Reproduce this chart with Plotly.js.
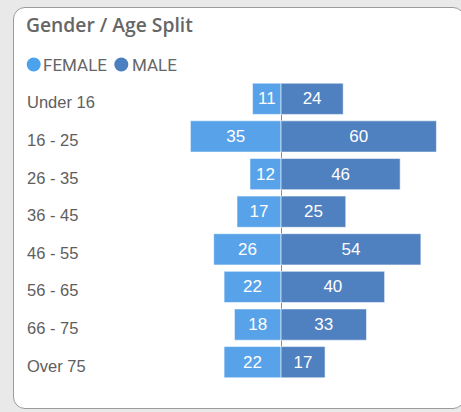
<!DOCTYPE html>
<html>
<head>
<meta charset="utf-8">
<script src="https://cdn.plot.ly/plotly-3.0.1.min.js"></script>
<style>
  html, body { margin: 0; padding: 0; background: #e9e9e9; width: 461px; height: 412px; overflow: hidden; }
  #card { position: absolute; left: 13px; top: 7px; width: 452px; height: 402px; background: #ffffff;
          border: 1.5px solid #9a9a9a; border-radius: 12px; box-sizing: border-box; }
  #chart { position: absolute; left: 0; top: 0; width: 461px; height: 412px; }
</style>
</head>
<body>
<div id="card"></div>
<div id="chart"></div>
<script>
const categories = ["Under 16", "16 - 25", "26 - 35", "36 - 45", "46 - 55", "56 - 65", "66 - 75", "Over 75"];
const female = [11, 35, 12, 17, 26, 22, 18, 22];
const male = [24, 60, 46, 25, 54, 40, 33, 17];
const seriesNames = ["FEMALE", "MALE"];
const colors = { female: "#58a2e9", male: "#4f80bf" };

const barFont = { color: "#ffffff", size: 17, family: "Liberation Sans, Arial, sans-serif" };
const traces = [
  {
    type: "bar", orientation: "h", name: seriesNames[0], showlegend: false,
    y: categories, x: female.map(v => -v), text: female.map(String),
    textposition: "inside", insidetextanchor: "middle", textangle: 0,
    textfont: barFont,
    marker: { color: colors.female, line: { color: "rgba(255,255,255,0.55)", width: 1 } },
    hoverinfo: "none"
  },
  {
    type: "bar", orientation: "h", name: seriesNames[1], showlegend: false,
    y: categories, x: male, text: male.map(String),
    textposition: "inside", insidetextanchor: "middle", textangle: 0,
    textfont: barFont,
    marker: { color: colors.male, line: { color: "rgba(255,255,255,0.55)", width: 1 } },
    hoverinfo: "none"
  }
];

const W = 461, H = 412;
const ml = 27, mr = 15, mt = 83, mb = 34;
const pw = W - ml - mr, ph = H - mt - mb;
const px2paperX = px => (px - ml) / pw;
const px2paperY = py => 1 - (py - mt) / ph;

const annotations = categories.map(c => ({
  xref: "paper", yref: "y", x: 0, y: c, xanchor: "left", yanchor: "middle",
  xshift: -2, yshift: -3.5,
  text: c, showarrow: false,
  font: { family: "Liberation Sans, Arial, sans-serif", size: 16.5, color: "#5e5e5e" }
}));
const legFont = { family: "Roboto, sans-serif", size: 17, color: "#666666" };
annotations.push(
  { xref: "paper", yref: "paper", x: px2paperX(41), y: px2paperY(64.5), xanchor: "left", yanchor: "middle",
    text: seriesNames[0], showarrow: false, font: legFont },
  { xref: "paper", yref: "paper", x: px2paperX(130), y: px2paperY(64.5), xanchor: "left", yanchor: "middle",
    text: seriesNames[1], showarrow: false, font: legFont }
);

const shapes = [
  { type: "circle", xref: "paper", yref: "paper", xsizemode: "pixel", ysizemode: "pixel",
    xanchor: px2paperX(33.7), yanchor: px2paperY(64.5), x0: -7, x1: 7, y0: -7, y1: 7,
    fillcolor: "#4da2ee", line: { width: 0 } },
  { type: "circle", xref: "paper", yref: "paper", xsizemode: "pixel", ysizemode: "pixel",
    xanchor: px2paperX(121.3), yanchor: px2paperY(64.5), x0: -7, x1: 7, y0: -7, y1: 7,
    fillcolor: "#4b7fc0", line: { width: 0 } }
];

const layout = {
  width: W, height: H,
  margin: { l: ml, r: mr, t: mt, b: mb, pad: 0 },
  paper_bgcolor: "rgba(0,0,0,0)", plot_bgcolor: "rgba(0,0,0,0)",
  title: { text: "Gender / Age Split", xref: "container", yref: "container",
           x: 26 / W, y: 1 - 25.5 / H, xanchor: "left", yanchor: "middle",
           font: { family: "Open Sans, sans-serif", size: 19.3, color: "#666666", weight: 600 } },
  barmode: "overlay", bargap: 0.17,
  xaxis: { range: [-98.1, 63.7], showgrid: false, showticklabels: false, ticks: "",
           zeroline: true, zerolinecolor: "#8a8a8a", zerolinewidth: 1, layer: "above traces", fixedrange: true },
  yaxis: { autorange: false, range: [7.42, -0.42], type: "category", categoryorder: "array", categoryarray: categories,
           showgrid: false, showticklabels: false, ticks: "", zeroline: false, fixedrange: true },
  annotations: annotations,
  shapes: shapes,
  showlegend: false
};

Plotly.newPlot("chart", traces, layout, { displayModeBar: false, staticPlot: true });
</script>
</body>
</html>
